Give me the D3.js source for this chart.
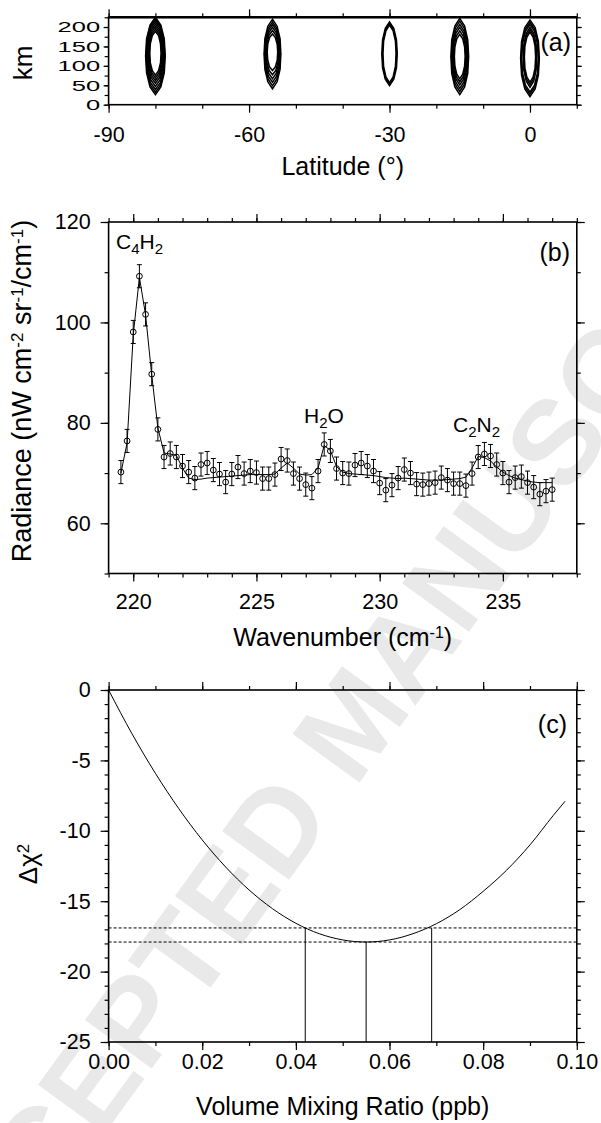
<!DOCTYPE html>
<html>
<head>
  <script src="https://d3js.org/d3.v7.min.js"></script>
  <style>
    html, body { margin: 0; padding: 0; background: #fff; }
    svg { display: block; font-family: "Liberation Sans", Arial, Helvetica, sans-serif; }
    .tick text { font-size: 21.5px; fill: #000; font-family: "Liberation Sans", Arial, sans-serif; }
    .tick line { stroke: #000; stroke-width: 1.2; }
    .lbl { font-size: 21px; fill: #000; }
    .title { font-size: 25px; fill: #000; }
    .watermark { font-size: 120px; font-weight: bold; fill: #e9e9e9; }
  </style>
</head>
<body>
<div id="chart"></div>
<script>

// ---------- DATA ----------

// (a) contour rings per latitude: [half width (deg), bottom km, top km]
const contourLat = [-80, -55, -30, -15, 0];
const rings80 = [[2.1,26,225],[2.0,32,222],[1.9,39,218],[1.78,47,213],[1.65,55,207],[1.5,62,201],[1.35,69,195],[1.2,76,189]];
const rings55 = [[1.8,41,220],[1.68,49,213],[1.55,58,206],[1.42,67,199],[1.28,77,191],[1.12,88,182]];
const rings30 = [[1.65,49,213],[1.52,53,209],[1.4,57,205]];
const rings15 = [[1.9,26,222],[1.75,34,215],[1.6,42,207],[1.45,51,199],[1.3,59,190],[1.15,67,181]];
const rings00 = [[2.0,21,218],[1.88,27,212],[1.76,33,206],[1.45,45,199],[1.33,52,193],[1.2,58,187]];
const contourRings = [rings80, rings55, rings30, rings15, rings00];

// (b) spectrum
const waveNum = [219.50,219.75,220.00,220.25,220.50,220.75,221.00,221.25,221.50,221.75,
  222.00,222.25,222.50,222.75,223.00,223.25,223.50,223.75,224.00,224.25,224.50,224.75,
  225.00,225.25,225.50,225.75,226.00,226.25,226.50,226.75,227.00,227.25,227.50,227.75,
  228.00,228.25,228.50,228.75,229.00,229.25,229.50,229.75,230.00,230.25,230.50,230.75,
  231.00,231.25,231.50,231.75,232.00,232.25,232.50,232.75,233.00,233.25,233.50,233.75,
  234.00,234.25,234.50,234.75,235.00,235.25,235.50,235.75,236.00,236.25,236.50,236.75,237.00];
const radObs = [70.2,76.4,98.1,109.2,101.6,89.7,78.7,73.2,73.9,73.2,
  71.4,70.2,69.0,71.7,72.0,70.6,69.8,68.2,69.8,71.2,69.9,70.4,
  70.1,68.9,68.9,69.7,72.8,72.5,69.9,68.9,67.7,67.0,70.4,75.7,
  74.4,70.9,70.0,69.9,71.6,72.0,71.4,70.4,68.0,66.6,67.6,69.0,
  70.7,70.0,67.8,67.7,67.9,68.1,69.1,68.6,67.9,67.9,67.5,69.9,
  73.2,73.8,73.4,71.7,70.0,68.2,69.1,69.3,68.1,67.2,65.8,66.4,66.7];
const radFit = [70.0,76.0,97.5,109.0,101.5,89.5,79.0,74.0,73.8,73.5,
  71.0,69.0,68.7,68.8,69.0,69.1,69.2,69.3,69.4,69.5,69.6,69.7,
  69.7,69.7,69.7,69.8,71.0,72.0,71.0,69.8,69.6,69.7,71.0,75.5,
  74.5,71.3,70.2,69.9,69.8,69.7,69.6,69.5,69.3,69.1,69.0,68.9,
  69.0,68.9,68.8,68.7,68.6,68.6,68.6,68.7,68.8,68.9,69.2,71.0,
  73.3,73.1,72.4,71.2,70.2,69.5,69.0,68.7,68.4,68.2,68.1,68.1,68.1];
const radErr = 2.3;
const bandLabels = [
  {name: [["C",""],["4","sub"],["H",""],["2","sub"]], x: 219.3, y: 114.6},
  {name: [["H",""],["2","sub"],["O",""]], x: 226.93, y: 80.0},
  {name: [["C",""],["2","sub"],["N",""],["2","sub"]], x: 232.98, y: 78.2}
];

// (c) delta chi-square curve
const vmr = [0,0.005,0.010,0.015,0.020,0.025,0.030,0.035,0.040,0.045,0.050,0.055,
  0.060,0.065,0.070,0.075,0.080,0.085,0.090,0.095,0.0975];
const dChi = [0,-3.11,-5.92,-8.43,-10.65,-12.57,-14.20,-15.53,-16.57,-17.31,-17.75,-17.90,
  -17.75,-17.31,-16.6,-15.6,-14.3,-12.8,-11.0,-8.9,-7.9];
const chiLevels = [-16.9, -17.9];
const vmrBounds = [0.042, 0.055, 0.069];
const boundChi = [-16.9, -17.9, -16.9];

// ---------- CANVAS ----------
const width = 601, height = 1123;
const L = 108.6, R = 576.8;

const svg = d3.select("#chart").append("svg")
  .attr("width", width).attr("height", height);

// watermark behind everything
svg.append("text")
  .attr("class", "watermark")
  .attr("text-anchor", "middle")
  .attr("transform", "translate(386,746) rotate(-54)")
  .text("ACCEPTED MANUSCRIPT");

function richText(sel, parts, big, small) {
  parts.forEach(([s, t], i) => {
    const prev = i > 0 ? parts[i-1][1] : "";
    let dy = 0;
    if (prev === "sup") dy += 8;
    if (prev === "sub") dy -= 5;
    if (t === "sup") dy -= 8;
    if (t === "sub") dy += 5;
    sel.append("tspan")
      .attr("dy", dy)
      .style("font-size", (t ? small : big) + "px")
      .text(s);
  });
}

function drawAxes(x, y, cfg) {
  const [y0, y1] = y.range();
  const [x0, x1] = x.range();
  const yTick = cfg.yTick || 8;
  const g = svg.append("g");
  const mk = (axis, tr) => {
    const a = g.append("g").attr("transform", tr).call(axis);
    a.select(".domain").remove();
    return a;
  };
  mk(d3.axisBottom(x).tickValues(cfg.xMinor).tickSize(4).tickFormat(""), `translate(0,${y0})`);
  mk(d3.axisTop(x).tickValues(cfg.xMinor).tickSize(4).tickFormat(""), `translate(0,${y1})`);
  mk(d3.axisLeft(y).tickValues(cfg.yMinor).tickSize(4).tickFormat(""), `translate(${x0},0)`);
  mk(d3.axisRight(y).tickValues(cfg.yMinor).tickSize(4).tickFormat(""), `translate(${x1},0)`);

  mk(d3.axisBottom(x).tickValues(cfg.xMajor).tickSize(8).tickPadding(cfg.xPad).tickFormat(cfg.xFmt), `translate(0,${y0})`);
  mk(d3.axisTop(x).tickValues(cfg.xMajor).tickSize(8).tickFormat(""), `translate(0,${y1})`);
  const left = mk(d3.axisLeft(y).tickValues(cfg.yMajor).tickSize(yTick).tickPadding(cfg.yPad).tickFormat(cfg.yFmt), `translate(${x0},0)`);
  mk(d3.axisRight(y).tickValues(cfg.yMajor).tickSize(yTick).tickFormat(""), `translate(${x1},0)`);

  // squat, stretched labels (panel a)
  if (cfg.ySx) {
    left.selectAll("text")
      .style("font-size", cfg.yFs + "px")
      .attr("x", -(yTick + cfg.yPad) / cfg.ySx)
      .attr("transform", `scale(${cfg.ySx},1)`);
  }

  g.append("rect")
    .attr("x", x0).attr("y", y1)
    .attr("width", x1 - x0).attr("height", y0 - y1)
    .attr("fill", "none").attr("stroke", "#000").attr("stroke-width", 1.6);
  return g;
}

// ---------- PANEL (a) ----------
const xa = d3.scaleLinear().domain([-90, 10]).range([L, R]);
const ya = d3.scaleLinear().domain([0, 225]).range([104.7, 17.3]);

svg.append("clipPath").attr("id", "clipA")
  .append("rect").attr("x", L).attr("y", 17.3).attr("width", R - L).attr("height", 104.7 - 17.3);

const ringLine = d3.line().x(d => xa(d[0])).y(d => ya(d[1])).curve(d3.curveLinearClosed);
function ringPts(c, r) {
  const [w, b, t] = r, h = t - b, m = (b + t) / 2;
  return [[c, t], [c + 0.55*w, t - 0.1*h], [c + 0.9*w, t - 0.28*h], [c + w, m],
          [c + 0.9*w, b + 0.28*h], [c + 0.55*w, b + 0.1*h], [c, b],
          [c - 0.55*w, b + 0.1*h], [c - 0.9*w, b + 0.28*h], [c - w, m],
          [c - 0.9*w, t - 0.28*h], [c - 0.55*w, t - 0.1*h]];
}
const gA = svg.append("g").attr("clip-path", "url(#clipA)");
contourLat.forEach((c, i) => {
  gA.selectAll(null).data(contourRings[i]).enter().append("path")
    .attr("d", r => ringLine(ringPts(c, r)))
    .attr("fill", "none").attr("stroke", "#000").attr("stroke-width", 1.5);
});

drawAxes(xa, ya, {
  xMinor: d3.range(-90, 11, 10), xMajor: [-90, -60, -30, 0], xPad: 14, xFmt: d => String(d),
  yMinor: d3.range(0, 226, 25), yMajor: [0, 50, 100, 150, 200], yPad: 3.5, yTick: 5, yFmt: d => String(d),
  ySx: 1.7, yFs: 15
});
// heavier top edge of panel (a)
svg.append("line").attr("x1", L).attr("x2", R).attr("y1", ya(225)).attr("y2", ya(225))
  .attr("stroke", "#000").attr("stroke-width", 2.6);

svg.append("text").attr("text-anchor", "middle").style("font-size", "26px")
  .attr("transform", "translate(32,63) rotate(-90)").text("km");
svg.append("text").attr("class", "title").attr("text-anchor", "middle")
  .attr("x", (L + R) / 2).attr("y", 175).text("Latitude (°)");
svg.append("text").attr("class", "title").attr("text-anchor", "end")
  .attr("x", 571).attr("y", 51).text("(a)");

// ---------- PANEL (b) ----------
const xb = d3.scaleLinear().domain([219, 238]).range([L, R]);
const yb = d3.scaleLinear().domain([50, 120]).range([573.5, 222]);

const spec = waveNum.map((w, i) => ({w: w, obs: radObs[i], fit: radFit[i]}));

svg.append("path").datum(spec)
  .attr("d", d3.line().x(d => xb(d.w)).y(d => yb(d.fit)))
  .attr("fill", "none").attr("stroke", "#000").attr("stroke-width", 1);

const eb = svg.append("g").attr("stroke", "#000").attr("stroke-width", 1);
eb.selectAll(".bar").data(spec).enter().append("line")
  .attr("x1", d => xb(d.w)).attr("x2", d => xb(d.w))
  .attr("y1", d => yb(d.obs - radErr)).attr("y2", d => yb(d.obs + radErr));
eb.selectAll(".capT").data(spec).enter().append("line")
  .attr("x1", d => xb(d.w) - 2.5).attr("x2", d => xb(d.w) + 2.5)
  .attr("y1", d => yb(d.obs + radErr)).attr("y2", d => yb(d.obs + radErr));
eb.selectAll(".capB").data(spec).enter().append("line")
  .attr("x1", d => xb(d.w) - 2.5).attr("x2", d => xb(d.w) + 2.5)
  .attr("y1", d => yb(d.obs - radErr)).attr("y2", d => yb(d.obs - radErr));

svg.append("g").selectAll("circle").data(spec).enter().append("circle")
  .attr("cx", d => xb(d.w)).attr("cy", d => yb(d.obs)).attr("r", 2.9)
  .attr("fill", "none").attr("stroke", "#000").attr("stroke-width", 1);

bandLabels.forEach(b => {
  const t = svg.append("text").attr("class", "lbl")
    .attr("x", xb(b.x)).attr("y", yb(b.y));
  richText(t, b.name, 21, 15);
});

drawAxes(xb, yb, {
  xMinor: d3.range(219, 239, 1), xMajor: [220, 225, 230, 235], xPad: 12, xFmt: d => String(d),
  yMinor: d3.range(50, 121, 10), yMajor: [60, 80, 100, 120], yPad: 10, yFmt: d => String(d)
});

const radTitle = svg.append("text").attr("class", "title").attr("text-anchor", "middle")
  .attr("transform", "translate(31,391) rotate(-90)");
richText(radTitle, [["Radiance (nW cm",""],["-2","sup"],[" sr",""],["-1","sup"],["/cm",""],["-1","sup"],[")",""]], 27, 17);

const wnTitle = svg.append("text").attr("class", "title").attr("text-anchor", "middle")
  .attr("x", (L + R) / 2).attr("y", 646);
richText(wnTitle, [["Wavenumber (cm",""],["-1","sup"],[")",""]], 25, 16);

svg.append("text").attr("class", "title").attr("text-anchor", "end")
  .attr("x", 570).attr("y", 261).text("(b)");

// ---------- PANEL (c) ----------
const xc = d3.scaleLinear().domain([0, 0.1]).range([L, R]);
const yc = d3.scaleLinear().domain([-25, 0]).range([1042, 690]);

svg.append("g").selectAll("line").data(chiLevels).enter().append("line")
  .attr("x1", xc(0)).attr("x2", xc(0.1))
  .attr("y1", d => yc(d)).attr("y2", d => yc(d))
  .attr("stroke", "#000").attr("stroke-width", 1).attr("stroke-dasharray", "3,2");

svg.append("g").selectAll("line").data(vmrBounds).enter().append("line")
  .attr("x1", d => xc(d)).attr("x2", d => xc(d))
  .attr("y1", yc(-25)).attr("y2", (d, i) => yc(boundChi[i]))
  .attr("stroke", "#000").attr("stroke-width", 1);

svg.append("path").datum(vmr.map((v, i) => [v, dChi[i]]))
  .attr("d", d3.line().x(d => xc(d[0])).y(d => yc(d[1])).curve(d3.curveMonotoneX))
  .attr("fill", "none").attr("stroke", "#000").attr("stroke-width", 1);

drawAxes(xc, yc, {
  xMinor: d3.range(0, 0.1001, 0.01), xMajor: [0, 0.02, 0.04, 0.06, 0.08, 0.1], xPad: 4, xFmt: d3.format(".2f"),
  yMinor: d3.range(-25, 0.1, 1), yMajor: [-25, -20, -15, -10, -5, 0], yPad: 10, yFmt: d => String(d)
});

const chiTitle = svg.append("text").attr("class", "title").attr("text-anchor", "middle")
  .attr("transform", "translate(37,864) rotate(-90)");
richText(chiTitle, [["Δχ",""],["2","sup"]], 26, 17);

svg.append("text").attr("class", "title").attr("text-anchor", "middle")
  .attr("x", (L + R) / 2).attr("y", 1115).text("Volume Mixing Ratio (ppb)");
svg.append("text").attr("class", "title").attr("text-anchor", "end")
  .attr("x", 567).attr("y", 733).text("(c)");

</script>
</body>
</html>
